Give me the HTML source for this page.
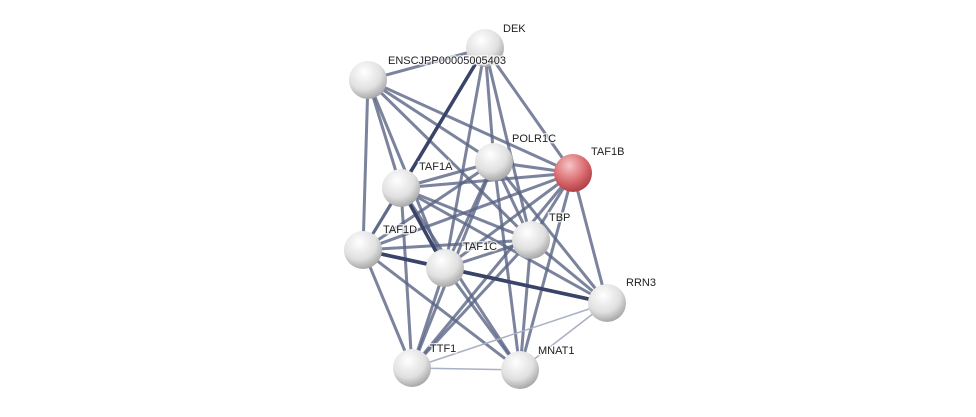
<!DOCTYPE html>
<html><head><style>body{margin:0;background:#fff;}svg{display:block}</style></head><body>
<svg width="976" height="417" xmlns="http://www.w3.org/2000/svg">
<defs>
<radialGradient id="g" cx="0.4" cy="0.3" r="0.75"><stop offset="0" stop-color="#ffffff"/><stop offset="0.6" stop-color="#e0e0e0"/><stop offset="1" stop-color="#9e9e9e"/></radialGradient>
<radialGradient id="r" cx="0.4" cy="0.3" r="0.75"><stop offset="0" stop-color="#f6c4c4"/><stop offset="0.6" stop-color="#d8676c"/><stop offset="1" stop-color="#a83a40"/></radialGradient>
</defs>
<g stroke-linecap="round">
<g stroke="#5a6485" stroke-width="3" stroke-opacity="0.8">
<line x1="368" y1="80" x2="485" y2="48"/>
<line x1="368" y1="80" x2="401" y2="188"/>
<line x1="368" y1="80" x2="363" y2="250"/>
<line x1="368" y1="80" x2="494" y2="162"/>
<line x1="368" y1="80" x2="573" y2="173"/>
<line x1="368" y1="80" x2="531" y2="240"/>
<line x1="368" y1="80" x2="445" y2="268"/>
<line x1="485" y1="48" x2="494" y2="162"/>
<line x1="485" y1="48" x2="573" y2="173"/>
<line x1="485" y1="48" x2="531" y2="240"/>
<line x1="485" y1="48" x2="445" y2="268"/>
<line x1="485" y1="48" x2="363" y2="250"/>
<line x1="401" y1="188" x2="494" y2="162"/>
<line x1="401" y1="188" x2="531" y2="240"/>
<line x1="401" y1="188" x2="363" y2="250"/>
<line x1="401" y1="188" x2="607" y2="303"/>
<line x1="401" y1="188" x2="412" y2="368"/>
<line x1="401" y1="188" x2="520" y2="370"/>
<line x1="494" y1="162" x2="363" y2="250"/>
<line x1="494" y1="162" x2="445" y2="268"/>
<line x1="494" y1="162" x2="531" y2="240"/>
<line x1="494" y1="162" x2="607" y2="303"/>
<line x1="494" y1="162" x2="520" y2="370"/>
<line x1="494" y1="162" x2="412" y2="368"/>
<line x1="573" y1="173" x2="531" y2="240"/>
<line x1="573" y1="173" x2="445" y2="268"/>
<line x1="573" y1="173" x2="607" y2="303"/>
<line x1="573" y1="173" x2="520" y2="370"/>
<line x1="573" y1="173" x2="412" y2="368"/>
<line x1="363" y1="250" x2="531" y2="240"/>
<line x1="363" y1="250" x2="412" y2="368"/>
<line x1="363" y1="250" x2="520" y2="370"/>
<line x1="445" y1="268" x2="531" y2="240"/>
<line x1="445" y1="268" x2="412" y2="368"/>
<line x1="445" y1="268" x2="520" y2="370"/>
<line x1="531" y1="240" x2="607" y2="303"/>
<line x1="531" y1="240" x2="412" y2="368"/>
<line x1="531" y1="240" x2="520" y2="370"/>
<line x1="401" y1="188" x2="573" y2="173"/>
<line x1="494" y1="162" x2="573" y2="173"/>
<line x1="363" y1="250" x2="573" y2="173"/>
</g>
<g stroke="#3a4468" stroke-width="3.5">
<line x1="485" y1="48" x2="401" y2="188"/>
<line x1="445" y1="268" x2="607" y2="303"/>
<line x1="363" y1="250" x2="445" y2="268"/>
<line x1="401" y1="188" x2="445" y2="268"/>
<line x1="363" y1="250" x2="607" y2="303"/>
</g>
<g stroke="#aab0c4" stroke-width="1.5">
<line x1="412" y1="368" x2="520" y2="370"/>
<line x1="412" y1="368" x2="607" y2="303"/>
<line x1="520" y1="370" x2="607" y2="303"/>
</g>
</g>
<g>
<circle cx="485" cy="48" r="19" fill="url(#g)"/>
<circle cx="368" cy="80" r="19" fill="url(#g)"/>
<circle cx="494" cy="162" r="19" fill="url(#g)"/>
<circle cx="573" cy="173" r="19" fill="url(#r)"/>
<circle cx="401" cy="188" r="19" fill="url(#g)"/>
<circle cx="363" cy="250" r="19" fill="url(#g)"/>
<circle cx="445" cy="268" r="19" fill="url(#g)"/>
<circle cx="531" cy="240" r="19" fill="url(#g)"/>
<circle cx="607" cy="303" r="19" fill="url(#g)"/>
<circle cx="412" cy="368" r="19" fill="url(#g)"/>
<circle cx="520" cy="370" r="19" fill="url(#g)"/>
</g>
<g font-family="Liberation Sans, sans-serif" font-size="11" fill="#222" stroke="#fff" stroke-width="3" paint-order="stroke" stroke-opacity="0.7">
<text x="503" y="32">DEK</text>
<text x="388" y="64">ENSCJPP00005005403</text>
<text x="512" y="142">POLR1C</text>
<text x="591" y="155">TAF1B</text>
<text x="419" y="170">TAF1A</text>
<text x="383" y="233">TAF1D</text>
<text x="463" y="250">TAF1C</text>
<text x="549" y="221">TBP</text>
<text x="626" y="286">RRN3</text>
<text x="430" y="352">TTF1</text>
<text x="538" y="354">MNAT1</text>
</g>
</svg>
</body></html>
